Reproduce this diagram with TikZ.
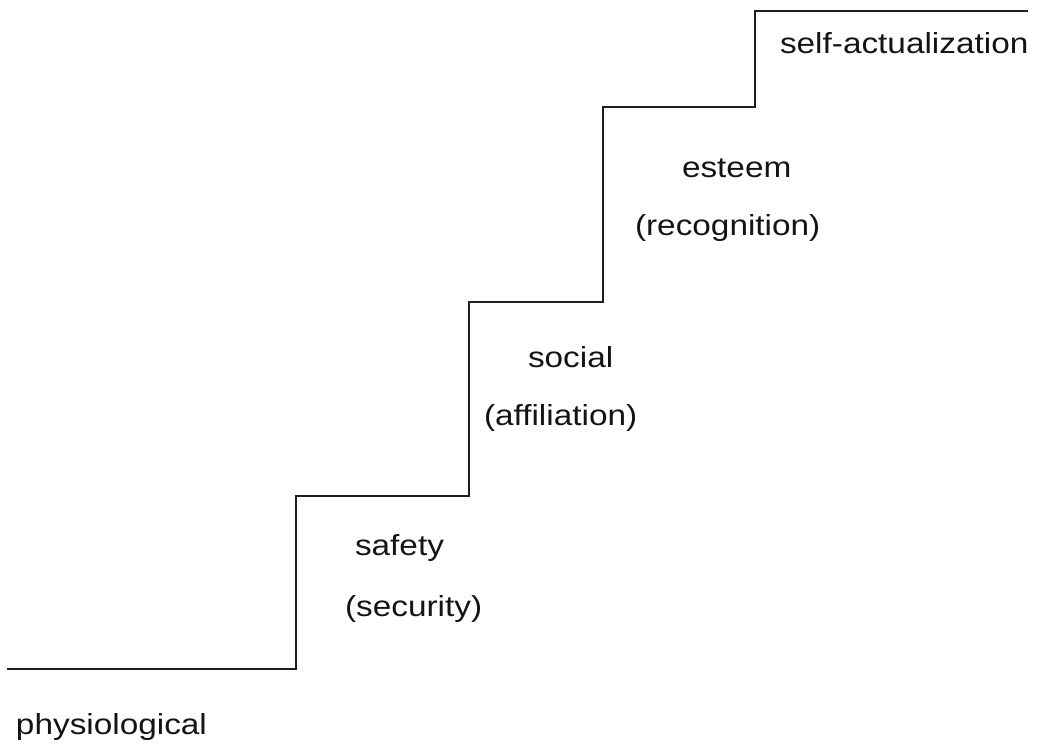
\documentclass[tikz,border=0pt]{standalone}
\usepackage{fontspec}
\setmainfont{Liberation Sans}
\newcommand{\stairlbl}[1]{\scalebox{1.15}[1]{#1}}
\begin{document}
\begin{tikzpicture}[x=1pt,y=-1pt,
  stairline/.style={line width=2.2pt,draw=black!88,line join=miter},
  lbl/.style={anchor=base west,inner sep=0pt,outer sep=0pt,text=black!92,font=\fontsize{29}{35}\selectfont}]
\useasboundingbox (0,0) rectangle (1042,745);
\coordinate (s0) at (7,669);
\coordinate (s1) at (296,669);
\coordinate (s2) at (296,496);
\coordinate (s3) at (469,496);
\coordinate (s4) at (469,302);
\coordinate (s5) at (603,302);
\coordinate (s6) at (603,107);
\coordinate (s7) at (755,107);
\coordinate (s8) at (755,11);
\coordinate (s9) at (1028,11);
\draw[stairline] (s0) -- (s1) -- (s2) -- (s3) -- (s4) -- (s5) -- (s6) -- (s7) -- (s8) -- (s9);
\node[lbl] (phys) at (16,734) {\stairlbl{physiological}};
\node[lbl] (safe) at (355,555) {\stairlbl{safety}};
\node[lbl] (secu) at (345,616) {\stairlbl{(security)}};
\node[lbl] (soci) at (528,367) {\stairlbl{social}};
\node[lbl] (affi) at (484,425) {\stairlbl{(affiliation)}};
\node[lbl] (este) at (682,177) {\stairlbl{esteem}};
\node[lbl] (reco) at (635,235) {\stairlbl{(recognition)}};
\node[lbl] (self) at (780,53) {\stairlbl{self-actualization}};
\end{tikzpicture}
\end{document}
